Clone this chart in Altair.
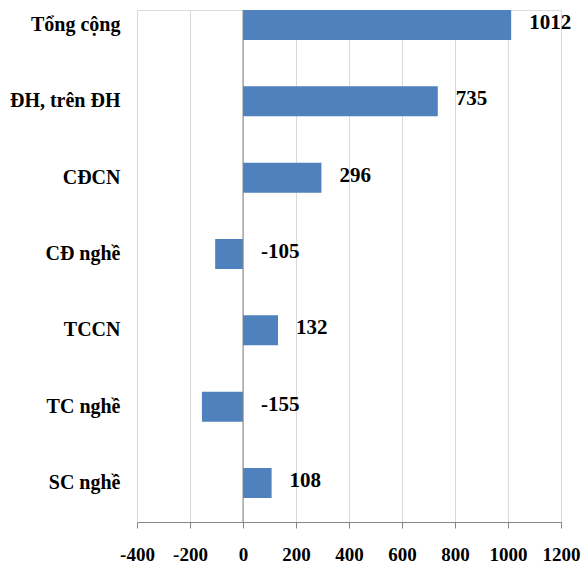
import altair as alt
import pandas as pd

categories = ["Tổng cộng", "ĐH, trên ĐH", "CĐCN", "CĐ nghề", "TCCN", "TC nghề", "SC nghề"]
values = [1012, 735, 296, -105, 132, -155, 108]
x_ticks = [-400, -200, 0, 200, 400, 600, 800, 1000, 1200]

df = pd.DataFrame({"cat": categories, "value": values})
df["lx"] = df["value"].clip(lower=0)
df["txt"] = df["value"].astype(str)

FONT = "Liberation Serif"

y_scale = alt.Scale(paddingInner=0.607, paddingOuter=0.157, align=0)
y_enc = alt.Y("cat:N", sort=categories, title=None, scale=y_scale,
              axis=alt.Axis(domain=False, ticks=False, labelFont=FONT, labelFontSize=20,
                            labelFontWeight="bold", labelColor="black", labelPadding=17,
                            grid=False))
x_scale = alt.Scale(domain=[-400, 1200], nice=False)

bars = alt.Chart(df).mark_bar(color="#4f81bd").encode(
    x=alt.X("value:Q", scale=x_scale, title=None,
            axis=alt.Axis(values=x_ticks, grid=True, gridColor="#d9d9d9", domainColor="#868686",
                          tickColor="#868686", tickSize=6, labelFont=FONT, labelFontSize=19,
                          labelFontWeight="bold", labelColor="black", labelPadding=17,
                          labelFlush=False, labelExpr="'' + datum.value")),
    y=y_enc,
)

zero = alt.Chart(pd.DataFrame({"z": [0]})).mark_rule(color="#868686", strokeWidth=1).encode(
    x=alt.X("z:Q", scale=x_scale)
)

labels = alt.Chart(df).mark_text(align="left", baseline="middle", dx=18, dy=-2,
                                 font=FONT, fontSize=21, fontWeight="bold", color="black").encode(
    x=alt.X("lx:Q", scale=x_scale),
    y=alt.Y("cat:N", sort=categories, scale=y_scale),
    text=alt.Text("txt:N"),
)

chart = alt.layer(bars, zero, labels).properties(
    width=424, height=512,
    padding={"left": 137, "top": 10, "right": 24, "bottom": 47},
    autosize="none",
).configure_view(stroke=None).configure(background="white")

chart.save("out.html", embed_options={"renderer": "svg", "actions": False})
